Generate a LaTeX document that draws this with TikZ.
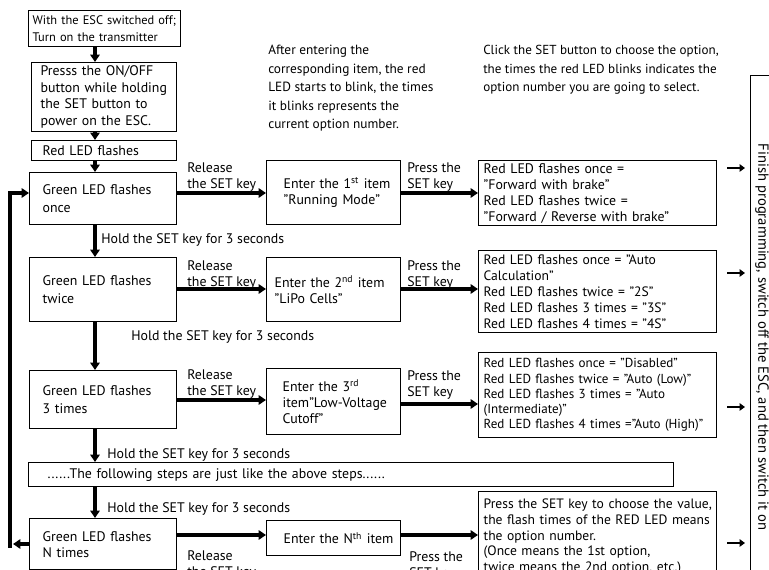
\documentclass[tikz,border=0pt]{standalone}
\usepackage{fontspec}
\setmainfont{PT Sans}
\usetikzlibrary{arrows.meta}
\newdimen\pxu \pxu=0.75pt
\newcommand\nb[1]{\mbox{#1}}
\begin{document}
\begin{tikzpicture}[x=0.75pt,y=-0.75pt,
  every node/.style={font=\fontsize{10.4}{12}\selectfont},
  bx/.style={draw, line width=1pt, anchor=north west, align=left, inner ysep=0pt},
  gfont/.style={font=\fontsize{10.4}{14}\selectfont},
  lbl/.style={anchor=north west, align=left, inner sep=0pt},
  arr/.style={line width=2.3pt, -{Triangle[length=5.5pt,width=7pt]}},
  sarr/.style={line width=1.8pt, -{Triangle[length=4pt,width=5.5pt]}}]
\useasboundingbox (0,0) rectangle (769,570);
\clip (0,0) rectangle (769,570);

% left column
\node[bx, minimum width=152\pxu, minimum height=36\pxu, inner xsep=4\pxu, text width=144\pxu,
  font=\fontsize{9.3}{12.8}\selectfont] (b1) at (28,10) {\nb{With the ESC switched off;}\\\nb{Turn on the transmitter}};
\node[bx, minimum width=145\pxu, minimum height=69\pxu, inner xsep=9\pxu, text width=127\pxu, font=\fontsize{10.4}{12.4}\selectfont] (b2) at (31,62)
  {\nb{Presss the ON/OFF}\\\nb{button while holding}\\\nb{the SET button to}\\\nb{power on the ESC.}};
\node[bx, minimum width=145\pxu, minimum height=20\pxu, inner xsep=11\pxu, text width=123\pxu] (b3) at (31,140)
  {\nb{Red LED flashes}};
\node[bx, gfont, minimum width=147\pxu, minimum height=52\pxu, inner xsep=13\pxu, text width=121\pxu] (g1) at (29,172)
  {\nb{Green LED flashes}\\once};
\node[bx, gfont, minimum width=147\pxu, minimum height=64\pxu, inner xsep=13\pxu, text width=121\pxu] (g2) at (29,257)
  {\nb{Green LED flashes}\\twice};
\node[bx, gfont, minimum width=147\pxu, minimum height=58\pxu, inner xsep=13\pxu, text width=121\pxu] (g3) at (29,370)
  {\nb{Green LED flashes}\\3 times};
\node[bx, minimum width=645\pxu, minimum height=24\pxu, inner xsep=19\pxu, text width=607\pxu] (dots) at (28,462)
  {......The following steps are just like the above steps......};
\node[bx, minimum width=147\pxu, minimum height=51\pxu, inner xsep=13\pxu, text width=121\pxu] (gN) at (29,518)
  {\nb{Green LED flashes}\\N times};

% middle column
\node[bx, minimum width=134\pxu, minimum height=64\pxu, inner xsep=17\pxu, text width=100\pxu] (e1) at (266,160)
  {\nb{Enter the 1\textsuperscript{st} item}\\\nb{"Running Mode"}};
\node[bx, minimum width=134\pxu, minimum height=64\pxu, inner xsep=8\pxu, text width=118\pxu] (e2) at (266,257)
  {\nb{Enter the 2\textsuperscript{nd} item}\\\nb{"LiPo Cells"}};
\node[bx, minimum width=134\pxu, minimum height=66\pxu, inner xsep=16\pxu, text width=102\pxu] (e3) at (266,368)
  {\nb{Enter the 3\textsuperscript{rd}}\\\nb{item"Low-Voltage}\\\nb{Cutoff"}};
\node[bx, minimum width=134\pxu, minimum height=35\pxu, inner xsep=17\pxu, text width=100\pxu] (eN) at (266,520)
  {\nb{Enter the N\textsuperscript{th} item}};

% option column
\node[bx, minimum width=238\pxu, minimum height=65\pxu, inner xsep=5\pxu, text width=228\pxu] (o1) at (478,160)
  {\nb{Red LED flashes once =}\\\nb{"Forward with brake"}\\\nb{Red LED flashes twice =}\\\nb{"Forward / Reverse with brake"}};
\node[bx, minimum width=238\pxu, minimum height=82\pxu, inner xsep=5\pxu, text width=228\pxu, font=\fontsize{10.2}{12}\selectfont] (o2) at (478,250)
  {\nb{Red LED flashes once = "Auto}\\\nb{Calculation"}\\\nb{Red LED flashes twice = "2S"}\\\nb{Red LED flashes 3 times = "3S"}\\\nb{Red LED flashes 4 times = "4S"}};
\node[bx, minimum width=238\pxu, minimum height=85\pxu, inner xsep=5\pxu, text width=228\pxu, font=\fontsize{9.8}{11.4}\selectfont] (o3) at (478,352)
  {\nb{Red LED flashes once = "Disabled"}\\\nb{Red LED flashes twice = "Auto (Low)"}\\\nb{Red LED flashes 3 times = "Auto}\\\nb{(Intermediate)"}\\\nb{Red LED flashes 4 times ="Auto (High)"}};
\node[bx, minimum width=238\pxu, minimum height=90\pxu, inner xsep=5\pxu, text width=228\pxu, font=\fontsize{10.2}{11.7}\selectfont] (oN) at (478,491)
  {\nb{Press the SET key to choose the value,}\\\nb{the flash times of the RED LED means}\\\nb{the option number.}\\\nb{(Once means the 1st option,}\\\nb{twice means the 2nd option, etc.)}};

% finish box
\node[draw, line width=1pt, anchor=north west, minimum width=40\pxu, minimum height=530\pxu, inner sep=0pt] (fin) at (750,75) {};
\node[rotate=-90, inner sep=0pt, font=\fontsize{11}{13}\selectfont] (fintxt) at (762,337) {Finish programming, switch off the ESC, and then switch it on};

% free texts
\node[lbl, font=\fontsize{10}{13.9}\selectfont] (mid) at (268,45)
  {After entering the\\corresponding item, the red\\LED starts to blink, the times\\it blinks represents the\\current option number.};
\node[lbl, font=\fontsize{9.8}{13.9}\selectfont] (rt) at (483,45)
  {Click the SET button to choose the option,\\the times the red LED blinks indicates the\\option number you are going to select.};

\node[lbl] (rel1) at (187,162) {Release\\the SET key};
\node[lbl] (pr1) at (407,162) {Press the\\SET key};
\node[lbl] (h1) at (101,233) {Hold the SET key for 3 seconds};
\node[lbl] (rel2) at (187,260) {Release\\the SET key};
\node[lbl] (pr2) at (407,260) {Press the\\SET key};
\node[lbl] (h2) at (131,330) {Hold the SET key for 3 seconds};
\node[lbl] (rel3) at (187,369) {Release\\the SET key};
\node[lbl] (pr3) at (407,370) {Press the\\SET key};
\node[lbl] (h3) at (107,448) {Hold the SET key for 3 seconds};
\node[lbl] (h4) at (107,502) {Hold the SET key for 3 seconds};
\node[lbl] (relN) at (187,550) {Release\\the SET key};
\node[lbl] (prN) at (409,551) {Press the\\SET key};

% helper coordinates
\coordinate (ax) at (95,0);
\coordinate (r1) at (0,193);
\coordinate (r2) at (0,289);
\coordinate (r3) at (0,400);
\coordinate (rN) at (0,535);
\coordinate (q3) at (0,404);
\coordinate (fbB) at (10,548);
\coordinate (fbT) at (10,193);
\coordinate (fbN) at (0,544);

% vertical arrows
\draw[arr] (b1.south -| ax) -- (b2.north -| ax);
\draw[arr] (b2.south -| ax) -- (b3.north -| ax);
\draw[arr] (b3.south -| ax) -- (g1.north -| ax);
\draw[arr] (g1.south -| ax) -- (g2.north -| ax);
\draw[arr] (g2.south -| ax) -- (g3.north -| ax);
\draw[arr] (g3.south -| ax) -- (dots.north -| ax);
\draw[arr] (dots.south -| ax) -- (gN.north -| ax);

% horizontal arrows
\draw[arr] (g1.east |- r1) -- (e1.west |- r1);
\draw[arr] (e1.east |- r1) -- (o1.west |- r1);
\draw[arr] (g2.east |- r2) -- (e2.west |- r2);
\draw[arr] (e2.east |- r2) -- (o2.west |- r2);
\draw[arr] (g3.east |- r3) -- (e3.west |- r3);
\draw[arr] (e3.east |- q3) -- (o3.west |- q3);
\draw[arr] (gN.east |- rN) -- (eN.west |- rN);
\draw[arr] (eN.east |- rN) -- (oN.west |- rN);

% feedback
\draw[line width=2.3pt] (fbB) -- (fbT);
\draw[arr] ([xshift=-1.15pt]fbT) -- (g1.west |- fbT);
\draw[arr] (gN.west |- fbN) -- (13,544);

% small arrows to finish
\coordinate (s1a) at (727,168); \coordinate (s1b) at (745,168);
\coordinate (s2a) at (727,273); \coordinate (s2b) at (745,273);
\coordinate (s3a) at (727,407); \coordinate (s3b) at (745,407);
\coordinate (s4a) at (727,543); \coordinate (s4b) at (745,543);
\draw[sarr] (s1a) -- (s1b);
\draw[sarr] (s2a) -- (s2b);
\draw[sarr] (s3a) -- (s3b);
\draw[sarr] (s4a) -- (s4b);
\end{tikzpicture}
\end{document}
